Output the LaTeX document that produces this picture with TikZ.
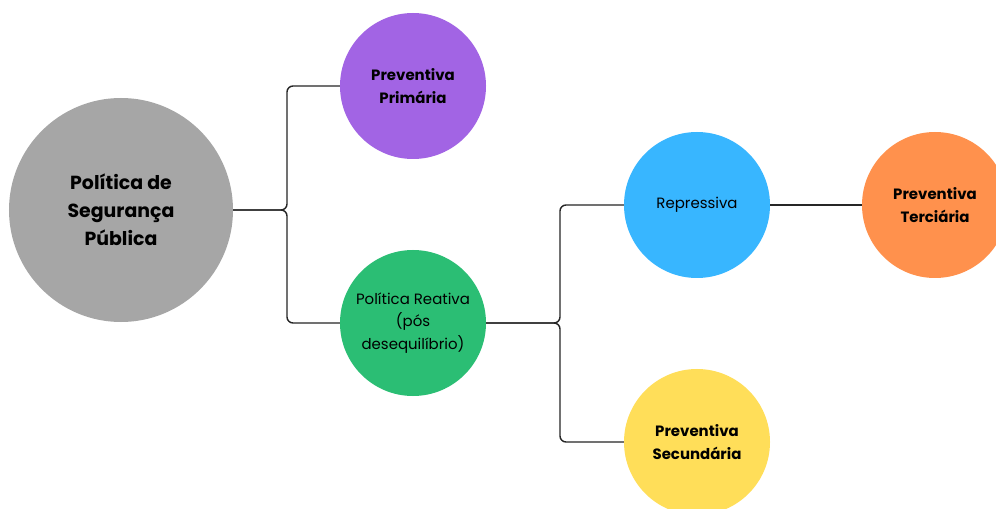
\documentclass[tikz,border=0pt]{standalone}
\usepackage{fontspec}
\setmainfont{Poppins}
\definecolor{cgrey}{HTML}{A6A6A6}
\definecolor{cpurple}{HTML}{A264E4}
\definecolor{cgreen}{HTML}{2BBE74}
\definecolor{cblue}{HTML}{38B6FF}
\definecolor{corange}{HTML}{FF914D}
\definecolor{cyellow}{HTML}{FFDE59}
\tikzset{
  bubble/.style={circle, minimum size=146bp, inner sep=0pt, align=center, text=black},
  boldlbl/.style={font=\fontsize{15}{23}\selectfont\bfseries},
  reglbl/.style={font=\fontsize{15}{22.5}\selectfont},
  conn/.style={line width=1.4bp, draw=black!85, rounded corners=6bp}
}
\begin{document}
\begin{tikzpicture}[x=1bp,y=-1bp]
\useasboundingbox (0,0) rectangle (996,509);
\clip (0,0) rectangle (996,509);
\fill[white] (0,0) rectangle (996,509);
\node[bubble, fill=cgrey, minimum size=224bp, font=\fontsize{19}{28}\selectfont\bfseries] (ps) at (121,210) {Política de\\Segurança\\Pública};
\node[bubble, boldlbl, fill=cpurple] (pp) at (413,86) {Preventiva\\Primária};
\node[bubble, reglbl, fill=cgreen] (pr) at (413,323) {Política Reativa\\(pós\\desequilíbrio)};
\node[bubble, reglbl, fill=cblue] (re) at (697,205) {Repressiva};
\node[bubble, boldlbl, fill=corange] (pt) at (935,205) {Preventiva\\Terciária};
\node[bubble, boldlbl, fill=cyellow] (psec) at (697,442) {Preventiva\\Secundária};
\coordinate (j1) at (287,210);
\coordinate (j2) at (560,323);
\draw[conn] (ps.east) -- (j1) |- (pp.west);
\draw[conn] (ps.east) -- (j1) |- (pr.west);
\draw[conn] (pr.east) -- (j2) |- (re.west);
\draw[conn] (pr.east) -- (j2) |- (psec.west);
\draw[conn] (re.east) -- (pt.west);
\end{tikzpicture}
\end{document}
